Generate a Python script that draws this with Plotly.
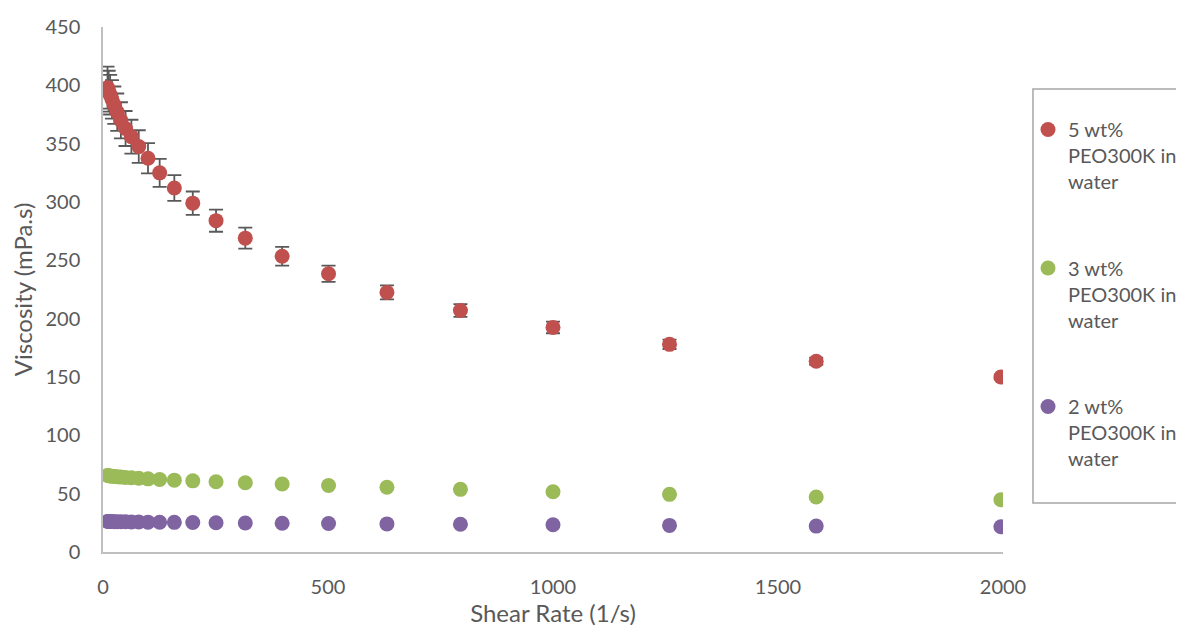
import plotly.graph_objects as go

shear_rate = [10, 12.59, 15.85, 19.95, 25.12, 31.62, 39.81, 50.12, 63.1, 79.43,
              100, 125.9, 158.5, 199.5, 251.2, 316.2, 398.1, 501.2, 631, 794.3,
              1000, 1258.9, 1584.9, 1995.3]

visc_5 = [398, 395, 392, 388, 383, 377, 370, 363, 356, 347.5,
          337.5, 325, 312, 299, 284, 269, 253.5, 238.5, 222.5, 207,
          192.5, 178, 163.5, 150]
err_5 = [18, 17.5, 17, 16.5, 16, 16, 15.5, 15, 14.5, 14,
         13, 12, 11, 10, 9.5, 9, 8, 7, 6, 5.5,
         5, 4, 3, 2]

visc_3 = [65.5, 65.3, 65.1, 64.9, 64.7, 64.5, 64.2, 63.9, 63.6, 63.2,
          62.7, 62.2, 61.6, 61.0, 60.2, 59.3, 58.3, 57.0, 55.5, 53.7,
          51.6, 49.4, 47.1, 44.8]

visc_2 = [26.2, 26.2, 26.1, 26.1, 26.0, 26.0, 25.9, 25.9, 25.8, 25.7,
          25.6, 25.5, 25.4, 25.3, 25.1, 24.9, 24.7, 24.4, 24.1, 23.8,
          23.3, 22.8, 22.2, 21.6]

names = ["5 wt%<br>PEO300K in<br>water", "3 wt%<br>PEO300K in<br>water", "2 wt%<br>PEO300K in<br>water"]
colors = ["#C0504D", "#9BBB59", "#8064A2"]

FONT = "Lato, 'Open Sans', sans-serif"
GREY = "#595959"

fig = go.Figure()
fig.add_trace(go.Scatter(
    x=shear_rate, y=visc_5, mode="markers", name=names[0], legendgroup="a",
    marker=dict(color=colors[0], size=15),
    error_y=dict(type="data", array=err_5, visible=True, color="#595959", thickness=1.8, width=7),
))
fig.add_trace(go.Scatter(
    x=shear_rate, y=visc_3, mode="markers", name=names[1], legendgroup="b",
    marker=dict(color=colors[1], size=15),
))
fig.add_trace(go.Scatter(
    x=shear_rate, y=visc_2, mode="markers", name=names[2], legendgroup="c",
    marker=dict(color=colors[2], size=15),
))

# legend frame (right side runs off the page, as in the original)
fig.add_shape(type="rect", xref="paper", yref="paper",
              x0=1.0333, x1=1.4, y0=0.0933, y1=0.882,
              line=dict(color="#A6A6A6", width=1.5), fillcolor="rgba(0,0,0,0)", layer="below")

fig.update_layout(
    width=1220, height=625,
    margin=dict(l=95, r=225, t=19, b=81, autoexpand=False),
    paper_bgcolor="white", plot_bgcolor="white",
    font=dict(family=FONT, color=GREY, size=20),
    xaxis=dict(
        range=[0, 2000], tickvals=[0, 500, 1000, 1500, 2000], automargin=False,
        showgrid=False, zeroline=False, showline=True, linecolor="#BFBFBF", linewidth=1.5,
        ticks="", ticklabelstandoff=16, tickfont=dict(size=20, color=GREY),
        title=dict(text="Shear Rate (1/s)", font=dict(size=24, color=GREY), standoff=0),
    ),
    yaxis=dict(
        range=[0, 450], tickvals=list(range(0, 451, 50)), automargin=False,
        showgrid=False, zeroline=False, showline=True, linecolor="#BFBFBF", linewidth=1.5,
        ticks="", ticklabelstandoff=17, tickfont=dict(size=20, color=GREY),
        title=dict(text="Viscosity (mPa.s)", font=dict(size=24, color=GREY), standoff=6),
    ),
    legend=dict(
        x=1.0278, xanchor="left", y=0.842, yanchor="top",
        borderwidth=0, bgcolor="rgba(0,0,0,0)",
        font=dict(size=20, color=GREY),
        tracegroupgap=57.5, itemwidth=30, valign="top",
    ),
    showlegend=True,
)

fig.write_html("out.html")
